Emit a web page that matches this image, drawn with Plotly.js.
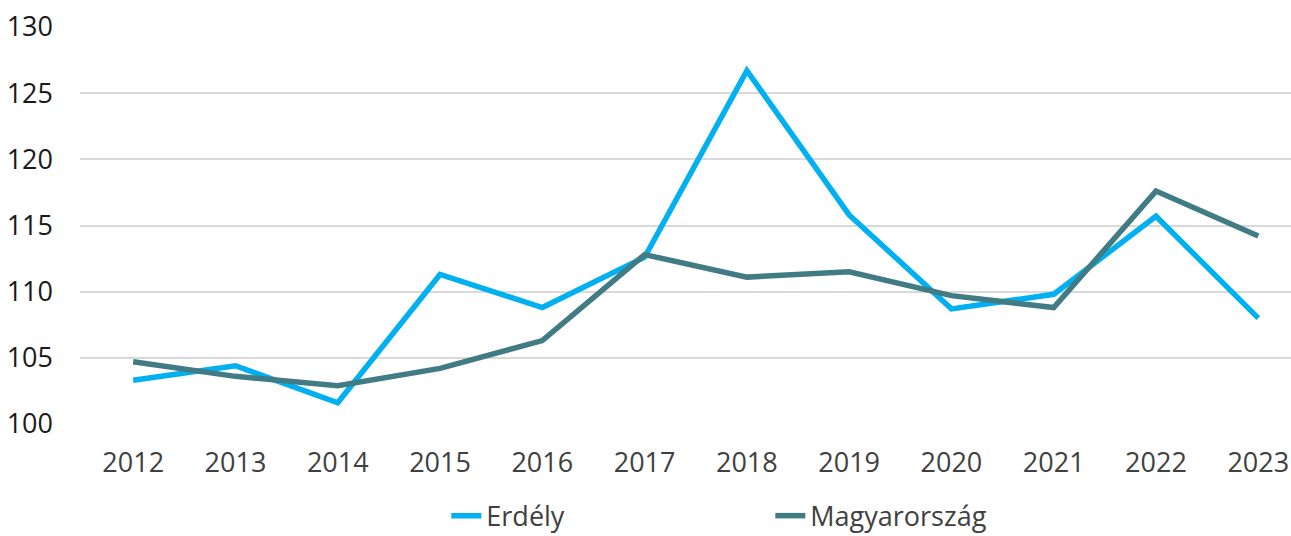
<!DOCTYPE html>
<html>
<head>
<meta charset="utf-8">
<script src="https://cdn.plot.ly/plotly-3.0.1.min.js"></script>
<style>html,body{margin:0;padding:0;background:#fff;}#chart{width:1291px;height:536px;}</style>
</head>
<body>
<div id="chart"></div>
<script>
const years = ["2012","2013","2014","2015","2016","2017","2018","2019","2020","2021","2022","2023"];
const erdely = [103.3, 104.4, 101.6, 111.3, 108.8, 112.6, 126.7, 115.8, 108.7, 109.8, 115.7, 108.0];
const magyarorszag = [104.7, 103.6, 102.9, 104.2, 106.3, 112.8, 111.1, 111.5, 109.7, 108.8, 117.6, 114.2];
const yTicks = [100, 105, 110, 115, 120, 125, 130];

const traces = [
  {x: years, y: erdely, name: "Erdély", type: "scatter", mode: "lines",
   line: {color: "#00B0F0", width: 5.5}},
  {x: years, y: magyarorszag, name: "Magyarország", type: "scatter", mode: "lines",
   line: {color: "#417B84", width: 5.5}}
];

const layout = {
  width: 1291, height: 536,
  margin: {l: 80, r: 0, t: 27, b: 112, autoexpand: false},
  paper_bgcolor: "#fff", plot_bgcolor: "#fff",
  font: {family: "Open Sans, sans-serif", size: 27, color: "#404040"},
  xaxis: {type: "category", range: [-0.52, 11.32], showgrid: false, zeroline: false,
          showline: false, ticks: "", ticklabelstandoff: 20, automargin: false,
          tickfont: {size: 27, color: "#404040"}},
  yaxis: {range: [100, 130], tickvals: yTicks, showgrid: true, gridcolor: "#d9d9d9",
          gridwidth: 2, zeroline: false, showline: false, ticks: "", automargin: false,
          ticklabelstandoff: 26, tickfont: {size: 27, color: "#1a1a1a"}},
  showlegend: true,
  legend: {orientation: "h", x: 0.3025, xanchor: "left", y: -0.232, yanchor: "middle",
           entrywidth: 279, entrywidthmode: "pixels",
           font: {size: 27, color: "#404040"}, bgcolor: "rgba(0,0,0,0)"}
};

Plotly.newPlot("chart", traces, layout, {displayModeBar: false, staticPlot: true});
</script>
</body>
</html>
